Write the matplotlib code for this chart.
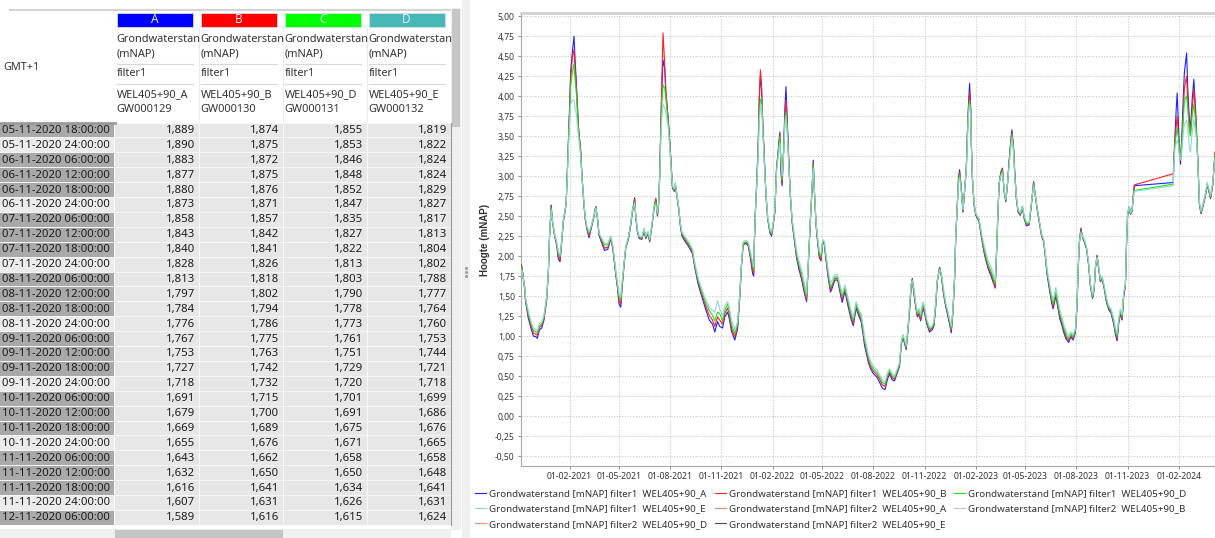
import numpy as np
import pandas as pd
import matplotlib
matplotlib.use('Agg')
import matplotlib.pyplot as plt
import matplotlib.dates as mdates
from matplotlib.patches import Rectangle
from matplotlib.ticker import FuncFormatter, MultipleLocator

plt.rcParams['font.family'] = ['Noto Sans', 'DejaVu Sans']

# ---- table (left panel) ----
row_times = ['05-11-2020 18:00:00', '05-11-2020 24:00:00',
             '06-11-2020 06:00:00', '06-11-2020 12:00:00', '06-11-2020 18:00:00', '06-11-2020 24:00:00',
             '07-11-2020 06:00:00', '07-11-2020 12:00:00', '07-11-2020 18:00:00', '07-11-2020 24:00:00',
             '08-11-2020 06:00:00', '08-11-2020 12:00:00', '08-11-2020 18:00:00', '08-11-2020 24:00:00',
             '09-11-2020 06:00:00', '09-11-2020 12:00:00', '09-11-2020 18:00:00', '09-11-2020 24:00:00',
             '10-11-2020 06:00:00', '10-11-2020 12:00:00', '10-11-2020 18:00:00', '10-11-2020 24:00:00',
             '11-11-2020 06:00:00', '11-11-2020 12:00:00', '11-11-2020 18:00:00', '11-11-2020 24:00:00',
             '12-11-2020 06:00:00']
tab_a = [1.889, 1.890, 1.883, 1.877, 1.880, 1.873, 1.858, 1.843, 1.840, 1.828, 1.813, 1.797, 1.784, 1.776,
         1.767, 1.753, 1.727, 1.718, 1.691, 1.679, 1.669, 1.655, 1.643, 1.632, 1.616, 1.607, 1.589]
tab_b = [1.874, 1.875, 1.872, 1.875, 1.876, 1.871, 1.857, 1.842, 1.841, 1.826, 1.818, 1.802, 1.794, 1.786,
         1.775, 1.763, 1.742, 1.732, 1.715, 1.700, 1.689, 1.676, 1.662, 1.650, 1.641, 1.631, 1.616]
tab_c = [1.855, 1.853, 1.846, 1.848, 1.852, 1.847, 1.835, 1.827, 1.822, 1.813, 1.803, 1.790, 1.778, 1.773,
         1.761, 1.751, 1.729, 1.720, 1.701, 1.691, 1.675, 1.671, 1.658, 1.650, 1.634, 1.626, 1.615]
tab_d = [1.819, 1.822, 1.824, 1.824, 1.829, 1.827, 1.817, 1.813, 1.804, 1.802, 1.788, 1.777, 1.764, 1.760,
         1.753, 1.744, 1.721, 1.718, 1.699, 1.686, 1.676, 1.665, 1.658, 1.648, 1.641, 1.631, 1.624]

col_letters = ['A', 'B', 'C', 'D']
col_colors = ['#0000ff', '#ff0000', '#00ff00', '#45b8b8']
col_wells = ['WEL405+90_A', 'WEL405+90_B', 'WEL405+90_D', 'WEL405+90_E']
col_codes = ['GW000129', 'GW000130', 'GW000131', 'GW000132']

# ---- chart (right panel), continues after the table rows ----
chart_dates = [
    '2020-11-14', '2020-11-19', '2020-11-24', '2020-11-28', '2020-12-03', '2020-12-05', '2020-12-09', '2020-12-13', '2020-12-17', '2020-12-22',
    '2020-12-25', '2020-12-27', '2020-12-30', '2021-01-01', '2021-01-05', '2021-01-09', '2021-01-12', '2021-01-15', '2021-01-18', '2021-01-21',
    '2021-01-24', '2021-01-26', '2021-01-28', '2021-01-30', '2021-02-01', '2021-02-03', '2021-02-06', '2021-02-09', '2021-02-11', '2021-02-13',
    '2021-02-17', '2021-02-21', '2021-02-23', '2021-02-26', '2021-03-01', '2021-03-04', '2021-03-08', '2021-03-12', '2021-03-16', '2021-03-20',
    '2021-03-23', '2021-03-26', '2021-03-31', '2021-04-05', '2021-04-11', '2021-04-16', '2021-04-20', '2021-04-24', '2021-04-28', '2021-05-01',
    '2021-05-04', '2021-05-06', '2021-05-10', '2021-05-13', '2021-05-18', '2021-05-22', '2021-05-25', '2021-05-29', '2021-05-31', '2021-06-03',
    '2021-06-06', '2021-06-11', '2021-06-15', '2021-06-18', '2021-06-22', '2021-06-25', '2021-06-29', '2021-07-03', '2021-07-06', '2021-07-09',
    '2021-07-11', '2021-07-13', '2021-07-15', '2021-07-17', '2021-07-19', '2021-07-22', '2021-07-24', '2021-07-28', '2021-07-31', '2021-08-03',
    '2021-08-05', '2021-08-08', '2021-08-10', '2021-08-12', '2021-08-16', '2021-08-19', '2021-08-22', '2021-08-28', '2021-09-03', '2021-09-10',
    '2021-09-14', '2021-09-20', '2021-09-26', '2021-10-02', '2021-10-10', '2021-10-16', '2021-10-20', '2021-10-25', '2021-10-29', '2021-11-03',
    '2021-11-07', '2021-11-12', '2021-11-15', '2021-11-19', '2021-11-25', '2021-11-30', '2021-12-04', '2021-12-07', '2021-12-10', '2021-12-15',
    '2021-12-19', '2021-12-23', '2021-12-27', '2021-12-29', '2021-12-30', '2022-01-01', '2022-01-04', '2022-01-06', '2022-01-08', '2022-01-10',
    '2022-01-12', '2022-01-14', '2022-01-17', '2022-01-20', '2022-01-23', '2022-01-27', '2022-01-30', '2022-02-02', '2022-02-05', '2022-02-08',
    '2022-02-11', '2022-02-14', '2022-02-16', '2022-02-18', '2022-02-21', '2022-02-23', '2022-02-25', '2022-02-27', '2022-03-02', '2022-03-05',
    '2022-03-08', '2022-03-12', '2022-03-16', '2022-03-20', '2022-03-25', '2022-03-30', '2022-04-03', '2022-04-06', '2022-04-10', '2022-04-13',
    '2022-04-15', '2022-04-17', '2022-04-20', '2022-04-23', '2022-04-26', '2022-04-29', '2022-05-02', '2022-05-05', '2022-05-08', '2022-05-12',
    '2022-05-16', '2022-05-19', '2022-05-24', '2022-05-29', '2022-06-02', '2022-06-06', '2022-06-11', '2022-06-16', '2022-06-22', '2022-06-26',
    '2022-07-01', '2022-07-05', '2022-07-10', '2022-07-14', '2022-07-16', '2022-07-23', '2022-07-27', '2022-08-01', '2022-08-07', '2022-08-13',
    '2022-08-17', '2022-08-22', '2022-08-26', '2022-08-30', '2022-09-04', '2022-09-08', '2022-09-13', '2022-09-17', '2022-09-20', '2022-09-23',
    '2022-09-26', '2022-09-29', '2022-10-02', '2022-10-05', '2022-10-08', '2022-10-10', '2022-10-13', '2022-10-16', '2022-10-19', '2022-10-22',
    '2022-10-25', '2022-10-29', '2022-11-01', '2022-11-05', '2022-11-10', '2022-11-15', '2022-11-18', '2022-11-21', '2022-11-24', '2022-11-28',
    '2022-12-01', '2022-12-05', '2022-12-09', '2022-12-12', '2022-12-16', '2022-12-19', '2022-12-22', '2022-12-25', '2022-12-27', '2022-12-30',
    '2023-01-01', '2023-01-03', '2023-01-06', '2023-01-09', '2023-01-12', '2023-01-15', '2023-01-17', '2023-01-19', '2023-01-21', '2023-01-23',
    '2023-01-24', '2023-01-26', '2023-01-29', '2023-02-01', '2023-02-04', '2023-02-07', '2023-02-10', '2023-02-14', '2023-02-18', '2023-02-23',
    '2023-02-28', '2023-03-04', '2023-03-08', '2023-03-11', '2023-03-13', '2023-03-15', '2023-03-18', '2023-03-21', '2023-03-24', '2023-03-27',
    '2023-03-30', '2023-04-02', '2023-04-05', '2023-04-07', '2023-04-10', '2023-04-12', '2023-04-15', '2023-04-18', '2023-04-22', '2023-04-26',
    '2023-04-29', '2023-05-03', '2023-05-08', '2023-05-12', '2023-05-16', '2023-05-22', '2023-05-26', '2023-05-30', '2023-06-03', '2023-06-06',
    '2023-06-09', '2023-06-13', '2023-06-17', '2023-06-20', '2023-06-25', '2023-06-29', '2023-07-02', '2023-07-06', '2023-07-09', '2023-07-13',
    '2023-07-18', '2023-07-22', '2023-07-26', '2023-07-30', '2023-08-02', '2023-08-04', '2023-08-06', '2023-08-09', '2023-08-12', '2023-08-15',
    '2023-08-19', '2023-08-23', '2023-08-26', '2023-08-30', '2023-09-02', '2023-09-04', '2023-09-07', '2023-09-10', '2023-09-13', '2023-09-16',
    '2023-09-20', '2023-09-24', '2023-09-28', '2023-10-02', '2023-10-07', '2023-10-10', '2023-10-13', '2023-10-16', '2023-10-19', '2023-10-22',
    '2023-10-25', '2023-10-28', '2023-10-30', '2023-11-01', '2023-11-04', '2023-11-06', '2023-11-09', '2023-11-11', '2023-11-13', '2024-01-22',
    '2024-01-23', '2024-01-25', '2024-01-27', '2024-01-29', '2024-01-31', '2024-02-02', '2024-02-04', '2024-02-07', '2024-02-09', '2024-02-11',
    '2024-02-15', '2024-02-17', '2024-02-20', '2024-02-22', '2024-02-25', '2024-02-28', '2024-03-02', '2024-03-04', '2024-03-06', '2024-03-08',
    '2024-03-09', '2024-03-12', '2024-03-16', '2024-03-20', '2024-03-23', '2024-03-26', '2024-03-29', '2024-04-02', '2024-04-06',
]

# filter1 WEL405+90_A
lvl_a = [
    1.43, 1.22, 1.09, 1.00, 0.99, 0.97, 1.08, 1.10, 1.20, 1.46,
    1.80, 2.23, 2.64, 2.44, 2.26, 2.13, 1.96, 1.93, 2.18, 2.44,
    2.56, 2.67, 3.06, 3.46, 3.85, 4.30, 4.55, 4.75, 4.45, 4.20,
    3.62, 3.32, 3.05, 2.72, 2.47, 2.34, 2.23, 2.35, 2.46, 2.62,
    2.48, 2.26, 2.16, 2.07, 2.09, 2.22, 2.08, 1.83, 1.61, 1.40,
    1.36, 1.56, 1.89, 2.10, 2.22, 2.39, 2.55, 2.73, 2.49, 2.30,
    2.22, 2.21, 2.32, 2.22, 2.28, 2.18, 2.37, 2.60, 2.72, 2.50,
    2.64, 3.02, 3.60, 4.10, 4.45, 4.35, 4.05, 3.74, 3.44, 3.10,
    2.85, 2.81, 2.89, 2.79, 2.60, 2.39, 2.25, 2.18, 2.12, 2.03,
    1.86, 1.65, 1.51, 1.37, 1.20, 1.15, 1.05, 1.18, 1.12, 1.10,
    1.24, 1.30, 1.22, 1.06, 0.95, 1.09, 1.49, 1.88, 2.14, 2.16,
    2.13, 1.98, 1.78, 1.75, 2.14, 2.55, 3.01, 3.38, 3.95, 4.25,
    4.10, 3.70, 3.22, 2.76, 2.47, 2.29, 2.25, 2.39, 2.55, 3.10,
    3.33, 3.55, 3.05, 2.88, 3.38, 3.85, 4.12, 3.75, 3.20, 2.73,
    2.42, 2.20, 1.98, 1.84, 1.71, 1.54, 1.43, 1.88, 2.47, 2.85,
    3.20, 2.81, 2.39, 2.16, 1.98, 1.94, 2.18, 2.14, 1.95, 1.72,
    1.55, 1.60, 1.70, 1.70, 1.55, 1.42, 1.56, 1.39, 1.21, 1.13,
    1.35, 1.27, 1.18, 1.00, 0.89, 0.67, 0.59, 0.53, 0.49, 0.41,
    0.35, 0.33, 0.45, 0.53, 0.45, 0.44, 0.54, 0.62, 0.88, 0.99,
    0.91, 0.83, 1.05, 1.31, 1.63, 1.72, 1.52, 1.37, 1.24, 1.27,
    1.19, 1.35, 1.29, 1.15, 1.05, 1.08, 1.13, 1.37, 1.68, 1.86,
    1.76, 1.53, 1.37, 1.28, 1.15, 1.04, 1.29, 1.72, 2.22, 2.65,
    2.98, 3.08, 2.85, 2.55, 2.81, 3.10, 3.55, 3.90, 4.16, 3.85,
    3.44, 2.97, 2.64, 2.51, 2.47, 2.43, 2.29, 2.12, 1.98, 1.85,
    1.76, 1.68, 1.60, 2.14, 2.55, 2.89, 3.05, 3.10, 2.81, 2.68,
    2.89, 3.19, 3.45, 3.58, 3.36, 3.06, 2.72, 2.55, 2.51, 2.60,
    2.47, 2.38, 2.39, 2.64, 2.93, 2.60, 2.43, 2.26, 2.18, 2.00,
    1.78, 1.60, 1.43, 1.34, 1.50, 1.34, 1.22, 1.13, 1.05, 0.97,
    0.92, 0.99, 0.95, 1.04, 1.37, 1.80, 2.15, 2.35, 2.23, 2.18,
    2.09, 1.88, 1.63, 1.47, 1.59, 1.84, 2.01, 1.84, 1.68, 1.72,
    1.59, 1.42, 1.33, 1.29, 1.15, 1.02, 0.94, 1.16, 1.28, 1.20,
    1.50, 1.63, 2.15, 2.52, 2.61, 2.52, 2.56, 2.74, 2.88, 2.92,
    3.19, 3.50, 3.80, 4.04, 3.70, 3.35, 3.15, 3.60, 4.00, 4.30,
    4.54, 4.10, 3.70, 3.60, 3.95, 4.21, 3.85, 3.52, 3.23, 2.85,
    2.64, 2.53, 2.64, 2.76, 2.89, 2.81, 2.72, 2.89, 3.30,
]

# filter1 WEL405+90_B
lvl_b = [
    1.45, 1.25, 1.12, 1.04, 1.02, 1.01, 1.11, 1.13, 1.22, 1.48,
    1.81, 2.24, 2.62, 2.45, 2.27, 2.15, 1.99, 1.96, 2.19, 2.45,
    2.57, 2.68, 3.05, 3.44, 3.80, 4.22, 4.48, 4.58, 4.35, 4.15,
    3.60, 3.31, 3.04, 2.73, 2.48, 2.36, 2.25, 2.36, 2.47, 2.62,
    2.49, 2.27, 2.18, 2.10, 2.11, 2.23, 2.10, 1.85, 1.63, 1.44,
    1.40, 1.59, 1.90, 2.11, 2.23, 2.40, 2.56, 2.71, 2.50, 2.31,
    2.23, 2.22, 2.33, 2.23, 2.29, 2.19, 2.38, 2.61, 2.71, 2.52,
    2.65, 3.00, 3.65, 4.25, 4.79, 4.40, 4.08, 3.73, 3.43, 3.09,
    2.86, 2.82, 2.90, 2.80, 2.61, 2.40, 2.27, 2.20, 2.14, 2.05,
    1.88, 1.68, 1.54, 1.41, 1.26, 1.20, 1.12, 1.24, 1.20, 1.15,
    1.28, 1.35, 1.27, 1.10, 0.99, 1.12, 1.51, 1.89, 2.15, 2.17,
    2.15, 2.00, 1.83, 1.78, 2.15, 2.56, 3.00, 3.40, 4.00, 4.33,
    4.15, 3.72, 3.22, 2.77, 2.48, 2.31, 2.27, 2.40, 2.56, 3.09,
    3.31, 3.52, 3.12, 2.92, 3.36, 3.75, 3.95, 3.68, 3.18, 2.74,
    2.44, 2.22, 2.00, 1.87, 1.74, 1.57, 1.45, 1.89, 2.48, 2.86,
    3.17, 2.82, 2.40, 2.18, 2.00, 1.96, 2.19, 2.15, 1.97, 1.75,
    1.58, 1.63, 1.72, 1.72, 1.58, 1.46, 1.59, 1.42, 1.25, 1.16,
    1.38, 1.30, 1.21, 1.04, 0.93, 0.70, 0.62, 0.56, 0.52, 0.45,
    0.39, 0.37, 0.48, 0.55, 0.48, 0.46, 0.56, 0.64, 0.89, 1.00,
    0.93, 0.85, 1.06, 1.33, 1.64, 1.71, 1.54, 1.39, 1.26, 1.29,
    1.21, 1.37, 1.31, 1.17, 1.07, 1.10, 1.15, 1.39, 1.69, 1.85,
    1.77, 1.55, 1.39, 1.30, 1.17, 1.07, 1.31, 1.73, 2.23, 2.66,
    2.96, 3.05, 2.84, 2.56, 2.82, 3.09, 3.52, 3.86, 4.04, 3.83,
    3.43, 2.98, 2.65, 2.52, 2.48, 2.44, 2.31, 2.14, 2.00, 1.87,
    1.79, 1.71, 1.62, 2.15, 2.56, 2.90, 3.04, 3.09, 2.82, 2.69,
    2.90, 3.18, 3.43, 3.55, 3.35, 3.05, 2.73, 2.56, 2.52, 2.61,
    2.48, 2.40, 2.40, 2.65, 2.92, 2.61, 2.44, 2.27, 2.19, 2.02,
    1.80, 1.63, 1.46, 1.37, 1.53, 1.37, 1.25, 1.16, 1.08, 1.00,
    0.94, 1.01, 0.97, 1.06, 1.39, 1.81, 2.16, 2.33, 2.24, 2.19,
    2.10, 1.89, 1.64, 1.48, 1.60, 1.85, 2.00, 1.85, 1.69, 1.73,
    1.60, 1.44, 1.35, 1.31, 1.17, 1.05, 0.97, 1.18, 1.30, 1.22,
    1.52, 1.64, 2.16, 2.53, 2.62, 2.53, 2.57, 2.75, 2.89, 3.03,
    3.18, 3.45, 3.60, 3.75, 3.55, 3.30, 3.20, 3.50, 3.80, 4.10,
    4.25, 3.95, 3.60, 3.55, 3.85, 4.08, 3.80, 3.51, 3.22, 2.86,
    2.65, 2.54, 2.65, 2.77, 2.90, 2.82, 2.73, 2.90, 3.28,
]

# filter1 WEL405+90_D
lvl_c = [
    1.46, 1.28, 1.15, 1.07, 1.05, 1.04, 1.13, 1.15, 1.24, 1.49,
    1.82, 2.24, 2.60, 2.45, 2.28, 2.16, 2.03, 1.99, 2.20, 2.45,
    2.57, 2.68, 3.03, 3.41, 3.75, 4.12, 4.30, 4.40, 4.20, 4.05,
    3.58, 3.29, 3.03, 2.74, 2.49, 2.37, 2.28, 2.37, 2.47, 2.61,
    2.49, 2.28, 2.20, 2.14, 2.14, 2.24, 2.11, 1.86, 1.65, 1.49,
    1.45, 1.61, 1.91, 2.11, 2.24, 2.41, 2.57, 2.68, 2.51, 2.32,
    2.24, 2.23, 2.34, 2.24, 2.30, 2.20, 2.39, 2.62, 2.68, 2.53,
    2.66, 2.98, 3.52, 3.95, 4.14, 4.10, 3.98, 3.70, 3.41, 3.08,
    2.87, 2.83, 2.91, 2.81, 2.62, 2.41, 2.28, 2.22, 2.16, 2.07,
    1.90, 1.70, 1.57, 1.45, 1.32, 1.26, 1.19, 1.30, 1.28, 1.19,
    1.32, 1.40, 1.32, 1.15, 1.03, 1.15, 1.53, 1.90, 2.16, 2.18,
    2.16, 2.03, 1.90, 1.82, 2.16, 2.57, 2.99, 3.33, 3.80, 3.95,
    3.98, 3.66, 3.20, 2.78, 2.49, 2.32, 2.28, 2.41, 2.57, 3.08,
    3.29, 3.50, 3.20, 2.95, 3.33, 3.70, 3.80, 3.62, 3.16, 2.74,
    2.45, 2.24, 2.03, 1.90, 1.78, 1.61, 1.49, 1.90, 2.49, 2.87,
    3.14, 2.83, 2.41, 2.20, 2.03, 1.99, 2.20, 2.16, 1.99, 1.78,
    1.61, 1.65, 1.74, 1.74, 1.61, 1.49, 1.61, 1.45, 1.28, 1.19,
    1.40, 1.32, 1.24, 1.07, 0.96, 0.73, 0.65, 0.59, 0.55, 0.48,
    0.42, 0.40, 0.50, 0.57, 0.50, 0.48, 0.57, 0.65, 0.90, 1.01,
    0.94, 0.86, 1.07, 1.36, 1.65, 1.70, 1.57, 1.40, 1.28, 1.32,
    1.24, 1.40, 1.34, 1.19, 1.09, 1.11, 1.17, 1.40, 1.70, 1.84,
    1.78, 1.57, 1.40, 1.32, 1.19, 1.09, 1.32, 1.74, 2.24, 2.66,
    2.94, 3.02, 2.83, 2.57, 2.83, 3.08, 3.50, 3.83, 3.95, 3.80,
    3.41, 2.99, 2.66, 2.53, 2.49, 2.45, 2.32, 2.16, 2.03, 1.90,
    1.82, 1.74, 1.65, 2.16, 2.57, 2.91, 3.02, 3.07, 2.83, 2.70,
    2.91, 3.16, 3.40, 3.52, 3.33, 3.03, 2.74, 2.57, 2.53, 2.62,
    2.49, 2.41, 2.41, 2.66, 2.90, 2.62, 2.45, 2.28, 2.20, 2.03,
    1.82, 1.65, 1.49, 1.40, 1.55, 1.40, 1.28, 1.19, 1.11, 1.03,
    0.96, 1.03, 0.99, 1.07, 1.40, 1.82, 2.16, 2.31, 2.24, 2.20,
    2.11, 1.90, 1.65, 1.49, 1.61, 1.86, 1.99, 1.86, 1.70, 1.74,
    1.61, 1.45, 1.36, 1.32, 1.19, 1.07, 0.99, 1.19, 1.32, 1.24,
    1.53, 1.65, 2.16, 2.53, 2.62, 2.53, 2.57, 2.72, 2.82, 2.90,
    3.16, 3.42, 3.50, 3.60, 3.50, 3.30, 3.25, 3.45, 3.70, 3.95,
    4.00, 3.85, 3.55, 3.50, 3.75, 3.90, 3.70, 3.50, 3.20, 2.87,
    2.66, 2.55, 2.66, 2.78, 2.91, 2.83, 2.74, 2.91, 3.26,
]

# filter1 WEL405+90_E
lvl_d = [
    1.48, 1.31, 1.18, 1.10, 1.08, 1.07, 1.16, 1.17, 1.26, 1.51,
    1.83, 2.25, 2.58, 2.46, 2.29, 2.17, 2.05, 2.01, 2.21, 2.46,
    2.58, 2.68, 2.99, 3.35, 3.65, 3.90, 3.95, 3.95, 3.85, 3.80,
    3.50, 3.24, 3.00, 2.75, 2.50, 2.38, 2.30, 2.38, 2.48, 2.60,
    2.50, 2.29, 2.22, 2.16, 2.16, 2.25, 2.13, 1.88, 1.67, 1.52,
    1.49, 1.64, 1.92, 2.12, 2.25, 2.42, 2.58, 2.66, 2.52, 2.33,
    2.25, 2.24, 2.35, 2.25, 2.31, 2.21, 2.40, 2.63, 2.64, 2.55,
    2.67, 2.94, 3.45, 3.75, 3.90, 3.85, 3.80, 3.62, 3.36, 3.05,
    2.88, 2.84, 2.92, 2.82, 2.63, 2.42, 2.30, 2.24, 2.18, 2.09,
    1.92, 1.73, 1.60, 1.49, 1.36, 1.32, 1.30, 1.44, 1.34, 1.26,
    1.38, 1.43, 1.36, 1.20, 1.08, 1.18, 1.55, 1.91, 2.18, 2.20,
    2.18, 2.06, 1.93, 1.86, 2.17, 2.58, 2.96, 3.28, 3.70, 3.85,
    3.90, 3.60, 3.16, 2.79, 2.50, 2.34, 2.30, 2.42, 2.58, 3.05,
    3.25, 3.42, 3.22, 3.00, 3.30, 3.65, 3.75, 3.58, 3.12, 2.75,
    2.47, 2.27, 2.07, 1.95, 1.83, 1.66, 1.53, 1.91, 2.50, 2.88,
    3.10, 2.84, 2.42, 2.22, 2.06, 2.03, 2.21, 2.18, 2.02, 1.82,
    1.66, 1.70, 1.77, 1.76, 1.64, 1.53, 1.64, 1.49, 1.32, 1.23,
    1.43, 1.35, 1.28, 1.11, 1.00, 0.77, 0.69, 0.62, 0.58, 0.51,
    0.45, 0.43, 0.53, 0.59, 0.53, 0.50, 0.59, 0.67, 0.92, 1.02,
    0.96, 0.88, 1.08, 1.39, 1.66, 1.69, 1.60, 1.42, 1.30, 1.35,
    1.27, 1.43, 1.37, 1.21, 1.11, 1.13, 1.19, 1.42, 1.71, 1.83,
    1.79, 1.60, 1.42, 1.34, 1.21, 1.12, 1.34, 1.75, 2.25, 2.66,
    2.92, 2.98, 2.81, 2.58, 2.84, 3.05, 3.45, 3.78, 3.90, 3.75,
    3.37, 3.00, 2.67, 2.54, 2.50, 2.47, 2.35, 2.20, 2.08, 1.95,
    1.87, 1.79, 1.70, 2.17, 2.58, 2.92, 3.00, 3.04, 2.84, 2.71,
    2.92, 3.12, 3.36, 3.48, 3.29, 2.99, 2.75, 2.58, 2.54, 2.63,
    2.50, 2.43, 2.42, 2.67, 2.88, 2.63, 2.46, 2.29, 2.21, 2.05,
    1.85, 1.68, 1.53, 1.45, 1.61, 1.45, 1.33, 1.24, 1.15, 1.07,
    0.99, 1.05, 1.02, 1.09, 1.42, 1.83, 2.17, 2.29, 2.25, 2.21,
    2.12, 1.91, 1.66, 1.51, 1.62, 1.87, 1.98, 1.87, 1.71, 1.75,
    1.63, 1.48, 1.38, 1.34, 1.22, 1.10, 1.03, 1.22, 1.34, 1.27,
    1.55, 1.66, 2.17, 2.54, 2.62, 2.54, 2.58, 2.72, 2.81, 2.88,
    3.12, 3.35, 3.40, 3.45, 3.40, 3.25, 3.20, 3.35, 3.55, 3.65,
    3.70, 3.60, 3.35, 3.30, 3.55, 3.70, 3.55, 3.45, 3.16, 2.88,
    2.67, 2.56, 2.67, 2.79, 2.92, 2.84, 2.76, 2.92, 3.22,
]

series_labels = ['Grondwaterstand [mNAP] filter1  WEL405+90_A', 'Grondwaterstand [mNAP] filter1  WEL405+90_B',
                 'Grondwaterstand [mNAP] filter1  WEL405+90_D', 'Grondwaterstand [mNAP] filter1  WEL405+90_E',
                 'Grondwaterstand [mNAP] filter2  WEL405+90_A', 'Grondwaterstand [mNAP] filter2  WEL405+90_B',
                 'Grondwaterstand [mNAP] filter2  WEL405+90_D', 'Grondwaterstand [mNAP] filter2  WEL405+90_E']
series_colors = ['#2020ff', '#ff2020', '#20e020', '#8fd8d0', '#d08a8a', '#b4c8c8', '#ff9070', '#4848a0']

for lst in (lvl_a, lvl_b, lvl_c, lvl_d):
    assert len(lst) == len(chart_dates)

W, H = 1215, 538
fig = plt.figure(figsize=(W / 100, H / 100), dpi=100)

# ================= background layer in pixel units: table, scrollbars, splitter =================
axt = fig.add_axes([0, 0, 1, 1])
axt.set_xlim(0, W)
axt.set_ylim(H, 0)
axt.axis('off')

tf = 8.2
hf = 7.9
txt_col = '#1e1e1e'
col_x0 = 114.5
col_w = 84.0
row_y0 = 122.5
row_h = 14.9

axt.plot([10, 450], [10, 10], color='#d4d4d4', lw=1.5)
for j, (letter, c) in enumerate(zip(col_letters, col_colors)):
    x = col_x0 + j * col_w
    clip = Rectangle((x, 28), col_w - 4, 94, transform=axt.transData)
    axt.add_patch(Rectangle((x + 2, 12.5), col_w - 8, 14, facecolor=c, edgecolor='#dddddd', lw=0.6))
    axt.text(x + 2 + (col_w - 8) / 2, 19.8, letter, ha='center', va='center', fontsize=8.5, color='#e8e8ff')
    for yy, s in ((39.5, 'Grondwaterstan'), (53.5, '(mNAP)'), (73.5, 'filter1'),
                  (94.5, col_wells[j]), (109.5, col_codes[j])):
        t = axt.text(x + 2, yy, s, fontsize=hf, color='#333333', va='center')
        t.set_clip_path(clip)
    axt.plot([x + 2, x + col_w - 6], [63.5, 63.5], color='#d8d8d8', lw=0.8)
    axt.plot([x + 2, x + col_w - 6], [83.5, 83.5], color='#d8d8d8', lw=0.8)
    axt.plot([x + col_w, x + col_w], [28, 122], color='#ececec', lw=0.8)
axt.text(3, 68, 'GMT+1', fontsize=hf, color='#333333', va='center')

values = [tab_a, tab_b, tab_c, tab_d]
for i, lab in enumerate(row_times):
    top = row_y0 + i * row_h
    hdr = '#ececec' if '24:00' in lab else '#a9a9a9'
    axt.add_patch(Rectangle((0, top), col_x0 - 0.5, row_h, facecolor=hdr, edgecolor='none'))
    axt.add_patch(Rectangle((col_x0, top), 4 * col_w, row_h, facecolor='#e7e7e7', edgecolor='none'))
    axt.plot([0, col_x0 + 4 * col_w], [top, top], color='#f7f7f7', lw=0.7)
    axt.text(1.5, top + row_h / 2 + 0.5, lab, fontsize=tf, color=txt_col, va='center')
    for j in range(4):
        s = f'{values[j][i]:.3f}'.replace('.', ',')
        axt.text(col_x0 + (j + 1) * col_w - 3, top + row_h / 2 + 0.5, s, fontsize=tf,
                 color=txt_col, va='center', ha='right')
axt.plot([0, col_x0], [row_y0, row_y0], color='#9a9a9a', lw=2)
for j in range(1, 4):
    axt.plot([col_x0 + j * col_w] * 2, [row_y0, row_y0 + 27 * row_h], color='#f7f7f7', lw=0.8)
axt.plot([col_x0 + 4 * col_w] * 2, [row_y0, row_y0 + 27 * row_h], color='#9a9a9a', lw=0.8)

# scrollbars and splitter
axt.add_patch(Rectangle((451, 8), 10, 522, facecolor='#f0f0f0', edgecolor='none'))
axt.add_patch(Rectangle((452, 9), 8, 118, facecolor='#c6c6c6', edgecolor='none'))
axt.add_patch(Rectangle((0, 529), 451, 9, facecolor='#f0f0f0', edgecolor='none'))
axt.add_patch(Rectangle((115, 530), 168, 8, facecolor='#c4c4c4', edgecolor='none'))
axt.add_patch(Rectangle((462, 0), 8, H, facecolor='#f0f0f0', edgecolor='none'))
axt.plot([466, 466, 466], [268, 272, 276], ls='none', marker='o', ms=1.3, color='#a0a0a0')

# ================= right panel: the chart =================
ax = fig.add_axes([521 / W, 1 - 466 / H, (W - 521) / W, (466 - 13) / H])
tab_times = (pd.to_datetime([s[:10] for s in row_times], format='%d-%m-%Y')
             + pd.to_timedelta([int(s[11:13]) for s in row_times], unit='h'))
x_all = tab_times.append(pd.DatetimeIndex(pd.to_datetime(chart_dates)))
ys = [tab_a + lvl_a, tab_b + lvl_b, tab_c + lvl_c, tab_d + lvl_d]

handles = []
for k in range(8):
    if k < 4:
        h, = ax.plot(x_all, ys[k], color=series_colors[k], lw=0.8, label=series_labels[k], zorder=3 + k)
    else:
        h, = ax.plot([], [], color=series_colors[k], lw=0.8, label=series_labels[k])
    handles.append(h)

ax.set_xlim(x_all[0], pd.Timestamp('2024-04-06'))
ax.set_ylim(-0.625, 5.04)
ax.yaxis.set_major_locator(MultipleLocator(0.25))
ax.yaxis.set_major_formatter(FuncFormatter(lambda v, p: f'{v:.2f}'.replace('.', ',')))
ax.xaxis.set_major_locator(mdates.MonthLocator(bymonth=[2, 5, 8, 11], bymonthday=1))
ax.xaxis.set_major_formatter(mdates.DateFormatter('%d-%m-%Y'))
ax.tick_params(axis='both', labelsize=6.2, colors='#777777', labelcolor='#333333', length=2.5, width=0.6, pad=2)
ax.grid(True, color='#c9c9c9', linestyle=(0, (1.2, 1.6)), linewidth=0.7)
ax.set_axisbelow(True)
for side in ('left', 'bottom'):
    ax.spines[side].set_color('#a8a8a8')
    ax.spines[side].set_linewidth(0.8)
ax.spines['top'].set_color('#d0d0d0')
ax.spines['top'].set_linewidth(2)
ax.spines['right'].set_visible(False)
ax.set_ylabel('Hoogte (mNAP)', fontsize=7, fontweight='bold', color='#333333',
              family=['Liberation Sans', 'DejaVu Sans'])
ax.yaxis.set_label_coords(-0.045, 0.5)

order = [0, 3, 6, 1, 4, 7, 2, 5]
fig.legend([handles[k] for k in order], [series_labels[k] for k in order], ncol=3,
           loc='upper left', bbox_to_anchor=(475 / W, 1 - 489 / H), frameon=False,
           fontsize=7.0, handlelength=1.1, handletextpad=0.3, columnspacing=0.85,
           labelspacing=0.66, borderaxespad=0, borderpad=0, labelcolor='#333333')

fig.savefig('out.png', dpi=100)
